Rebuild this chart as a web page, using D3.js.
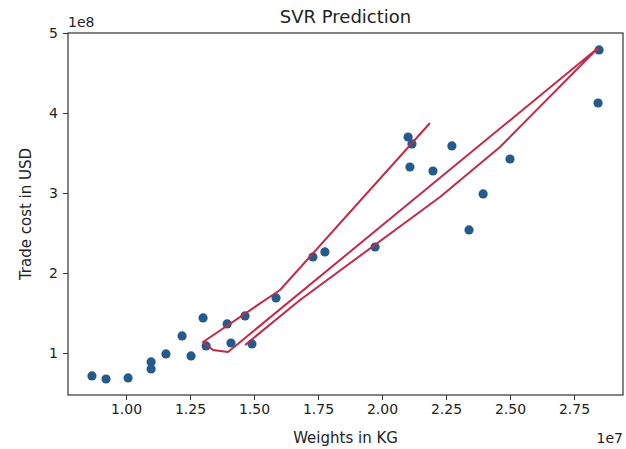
<!DOCTYPE html>
<html>
<head>
<meta charset="utf-8">
<script src="https://cdn.jsdelivr.net/npm/d3@7"></script>
<style>
  html, body { margin: 0; padding: 0; background: #fff; }
  svg { display: block; font-family: "DejaVu Sans", sans-serif; }
</style>
</head>
<body>
<svg id="chart" width="626" height="449"></svg>
<script>
// Actual data points: weight (kg) and trade cost (USD)
const weights = [0.867e7, 0.922e7, 1.008e7, 1.098e7, 1.098e7, 1.156e7, 1.219e7, 1.254e7,
  1.301e7, 1.313e7, 1.395e7, 1.41e7, 1.465e7, 1.492e7, 1.586e7, 1.73e7, 1.777e7, 1.973e7,
  2.102e7, 2.117e7, 2.109e7, 2.199e7, 2.273e7, 2.34e7, 2.395e7, 2.5e7, 2.848e7, 2.844e7];
const costs = [0.713e8, 0.675e8, 0.688e8, 0.888e8, 0.80e8, 0.988e8, 1.213e8, 0.963e8,
  1.438e8, 1.088e8, 1.363e8, 1.125e8, 1.463e8, 1.113e8, 1.688e8, 2.20e8, 2.263e8, 2.325e8,
  3.70e8, 3.613e8, 3.325e8, 3.275e8, 3.588e8, 2.538e8, 2.988e8, 3.425e8, 4.788e8, 4.125e8];

// SVR prediction line (drawn in data order)
const predWeights = [2.1875e7, 1.6016e7, 1.3008e7, 1.3398e7, 1.3984e7, 2.8438e7, 2.4609e7, 2.2266e7, 1.6797e7, 1.4648e7];
const predCosts   = [3.875e8, 1.7875e8, 1.1375e8, 1.0375e8, 1.0125e8, 4.8125e8, 3.575e8, 2.95e8, 1.6625e8, 1.10e8];

const xTicks = [1.0e7, 1.25e7, 1.5e7, 1.75e7, 2.0e7, 2.25e7, 2.5e7, 2.75e7];
const yTicks = [1e8, 2e8, 3e8, 4e8, 5e8];

const title = "SVR Prediction";
const xLabel = "Weights in KG";
const yLabel = "Trade cost in USD";

const svg = d3.select("#chart");
const L = 68, R = 623, T = 33, B = 395;

const x = d3.scaleLinear().domain([0.7734e7, 2.9414e7]).range([L, R]);
const y = d3.scaleLinear().domain([0.475e8, 5.0e8]).range([B, T]);

// Prediction line
const lineGen = d3.line().x((d, i) => x(predWeights[i])).y((d, i) => y(predCosts[i])).curve(d3.curveLinear);

// scatter
svg.append("g").selectAll("circle")
  .data(weights)
  .join("circle")
  .attr("cx", (d) => x(d))
  .attr("cy", (d, i) => y(costs[i]))
  .attr("r", 4.6)
  .attr("fill", "#245b8c");

svg.append("path")
  .attr("d", lineGen(predWeights))
  .attr("fill", "none")
  .attr("stroke", "#c22a47")
  .attr("stroke-width", 2)
  .attr("stroke-linejoin", "round");

// axes
const xAxis = d3.axisBottom(x).tickValues(xTicks).tickFormat(d => (d / 1e7).toFixed(2)).tickSize(5).tickPadding(4);
const yAxis = d3.axisLeft(y).tickValues(yTicks).tickFormat(d => (d / 1e8).toFixed(0)).tickSize(5).tickPadding(5);

const gx = svg.append("g").attr("transform", `translate(0,${B})`).call(xAxis);
const gy = svg.append("g").attr("transform", `translate(${L},0)`).call(yAxis);
[gx, gy].forEach(g => {
  g.select(".domain").remove();
  g.selectAll("line").attr("stroke", "#333");
  g.selectAll("text").attr("font-size", 14).attr("fill", "#222").attr("font-family", "DejaVu Sans, sans-serif");
});

// frame
svg.append("rect").attr("x", L).attr("y", T).attr("width", R - L).attr("height", B - T)
  .attr("fill", "none").attr("stroke", "#333").attr("stroke-width", 1.2);

// texts
svg.append("text").attr("x", (L + R) / 2).attr("y", 23).attr("text-anchor", "middle")
  .attr("font-size", 18).attr("fill", "#222").text(title);
svg.append("text").attr("x", (L + R) / 2).attr("y", 443).attr("text-anchor", "middle")
  .attr("font-size", 15).attr("fill", "#222").text(xLabel);
svg.append("text").attr("transform", `translate(31,${(T + B) / 2}) rotate(-90)`).attr("text-anchor", "middle")
  .attr("font-size", 15).attr("fill", "#222").text(yLabel);
svg.append("text").attr("x", L).attr("y", 27).attr("font-size", 14).attr("fill", "#222").text("1e8");
svg.append("text").attr("x", R).attr("y", 443).attr("text-anchor", "end").attr("font-size", 14).attr("fill", "#222").text("1e7");
</script>
</body>
</html>
